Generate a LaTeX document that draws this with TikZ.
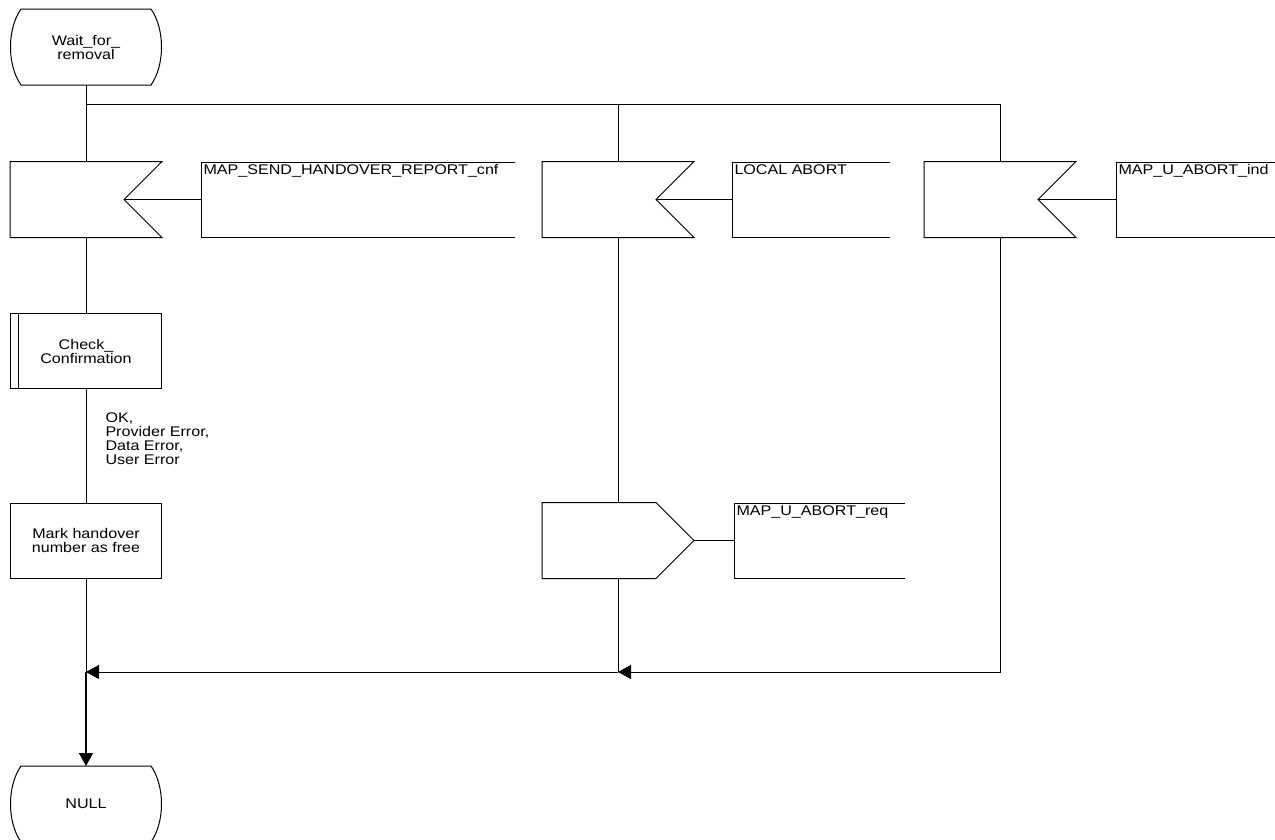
\documentclass[tikz,border=0pt]{standalone}
\usepackage{fontspec}
\setmainfont{Liberation Sans}[FakeStretch=1.15]
\usetikzlibrary{arrows.meta}

\tikzset{
  sdlbox/.style={minimum width=151pt, minimum height=75pt, inner sep=0pt, align=center},
  siglabel/.style={anchor=north west, inner sep=2pt, align=left},
  tip/.style={-{Triangle[length=13pt,width=14pt]}}
}

\begin{document}
\begin{tikzpicture}[x=1pt,y=-1pt,line width=1pt,font=\fontsize{14}{14}\selectfont]
	\useasboundingbox (0,0) rectangle (1275,839);

	% states
	\node[sdlbox] (wait) at (86,47) {Wait\_for\_\\removal};
	\node[sdlbox] (null) at (86,804) {NULL};
	\foreach \s in {wait,null}
		\draw ([xshift=11pt]\s.north west) -- ([xshift=-11pt]\s.north east)
			.. controls ([xshift=3pt,yshift=-20pt]\s.north east) and ([xshift=3pt,yshift=20pt]\s.south east) .. ([xshift=-11pt]\s.south east)
			-- ([xshift=11pt]\s.south west)
			.. controls ([xshift=-3pt,yshift=20pt]\s.south west) and ([xshift=-3pt,yshift=-20pt]\s.north west) .. cycle;

	% inputs
	\node[sdlbox] (in1) at (86,199.5) {};
	\node[sdlbox] (in2) at (618,199.5) {};
	\node[sdlbox] (in3) at (1000,199.5) {};
	\foreach \s in {in1,in2,in3}
		\draw (\s.north west) -- (\s.north east) -- ([xshift=-38pt]\s.east) -- (\s.south east) -- (\s.south west) -- cycle;

	\node[siglabel] (lbl1) at (201,162) {MAP\_SEND\_HANDOVER\_REPORT\_cnf};
	\node[siglabel] (lbl2) at (732,162) {LOCAL ABORT};
	\node[siglabel] (lbl3) at (1116,162) {MAP\_U\_ABORT\_ind};
	\draw (515,162) -- (201,162) -- (201,237) -- (515,237);
	\draw (890,162) -- (732,162) -- (732,237) -- (890,237);
	\draw (1280,162) -- (1116,162) -- (1116,237) -- (1280,237);
	\draw ([xshift=-38pt]in1.east) -- (in1.east -| lbl1.west);
	\draw ([xshift=-38pt]in2.east) -- (in2.east -| lbl2.west);
	\draw ([xshift=-38pt]in3.east) -- (in3.east -| lbl3.west);

	% left branch
	\node[sdlbox,draw] (check) at (86,351) {Check\_\\Confirmation};
	\draw ([xshift=8pt]check.north west) -- ([xshift=8pt]check.south west);
	\node[siglabel] (result) at (103,410) {OK,\\Provider Error,\\Data Error,\\User Error};
	\node[sdlbox,draw] (mark) at (86,540.5) {Mark handover\\number as free};

	% output
	\node[sdlbox] (out) at (618,540.5) {};
	\draw (out.north west) -- ([xshift=-38pt]out.north east) -- (out.east) -- ([xshift=-38pt]out.south east) -- (out.south west) -- cycle;
	\node[siglabel] (lbl4) at (734,503) {MAP\_U\_ABORT\_req};
	\draw (905,503) -- (734,503) -- (734,578) -- (905,578);
	\draw (out.east) -- (out.east -| lbl4.west);

	% connectors
	\coordinate (split) at (86,104);
	\coordinate (join1) at (86,672);
	\coordinate (join2) at (618,672);
	\draw (wait) -- (in1);
	\draw (split) -| (in2);
	\draw (split) -| (in3);
	\draw (in1) -- (check);
	\draw (check) -- (mark);
	\draw (in2) -- (out);
	\draw[tip] (in3.south) |- (join2);
	\draw (out) -- (join2);
	\draw[tip] (join2) -- (join1);
	\draw (mark) -- (join1);
	\draw[tip, line width=1.6pt] (join1) -- (null);
\end{tikzpicture}
\end{document}
